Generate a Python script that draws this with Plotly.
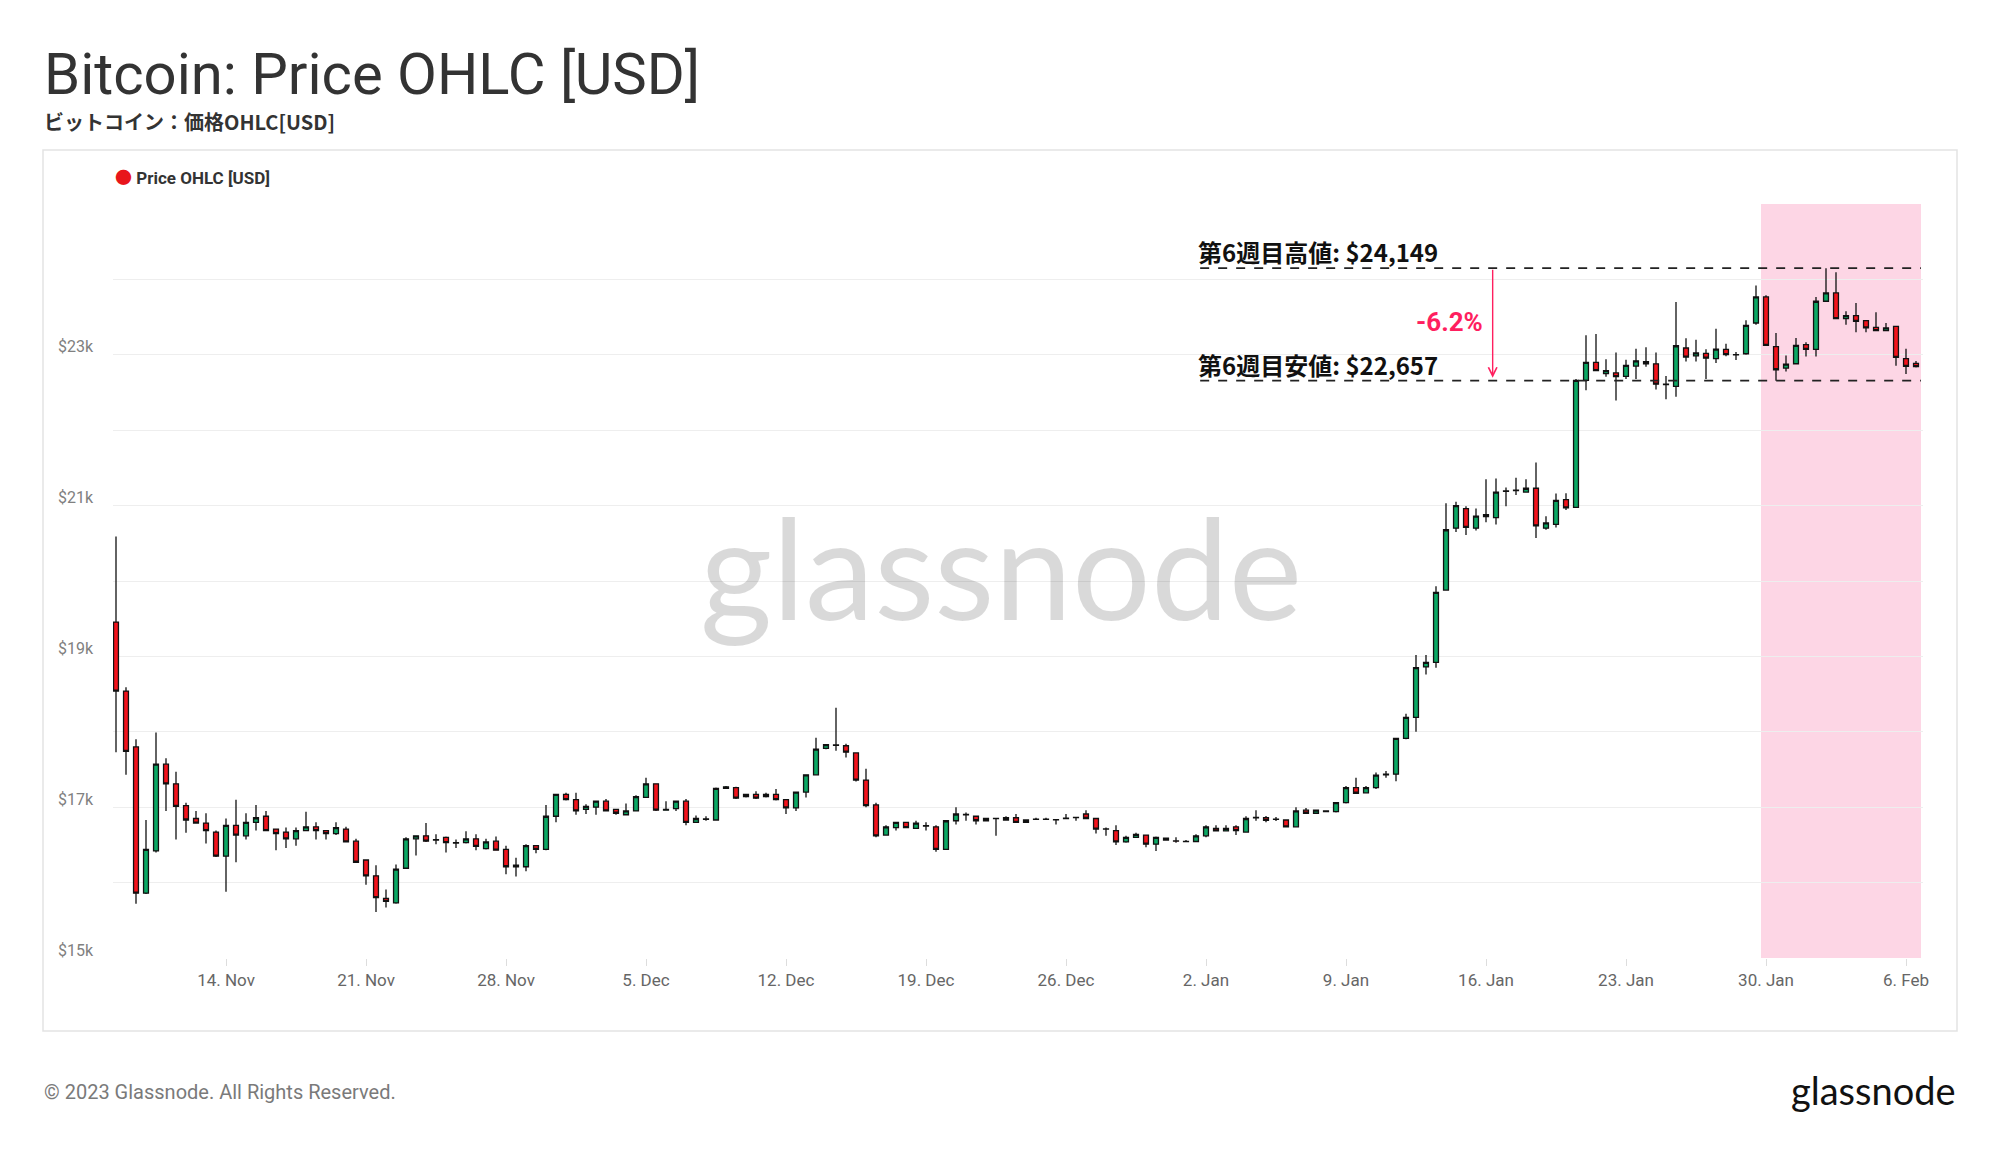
import pandas as pd
import plotly.graph_objects as go

# 12時間足 OHLC (2022-11-08 12:00 から)
start_time = "2022-11-08 12:00"
opens = [
    19455, 18540, 17800, 15860, 16420, 17570, 17310, 17020, 16850, 16790,
    16670, 16350, 16760, 16620, 16800, 16880, 16710, 16670, 16580, 16690,
    16740, 16690, 16650, 16710, 16550, 16300, 16090, 15790, 15730, 16190,
    16580, 16620, 16570, 16600, 16530, 16530, 16580, 16450, 16550, 16440,
    16210, 16210, 16490, 16440, 16880, 17170, 17100, 16970, 17000, 17080,
    16970, 16900, 16950, 17130, 17310, 16960, 16980, 17080, 16800, 16840,
    16830, 17250, 17260, 17140, 17170, 17140, 17170, 17100, 16990, 17200,
    17430, 17780, 17820, 17815, 17720, 17360, 17030, 16630, 16730, 16800,
    16720, 16750, 16740, 16440, 16820, 16900, 16880, 16820, 16850, 16830,
    16860, 16800, 16840, 16840, 16835, 16850, 16866, 16910, 16850, 16710,
    16690, 16540, 16600, 16630, 16510, 16590, 16552, 16543, 16545, 16620,
    16720, 16685, 16740, 16670, 16860, 16862, 16840, 16830, 16740, 16960,
    16920, 16940, 16940, 17060, 17260, 17190, 17260, 17430, 17438, 17912,
    18190, 18860, 18920, 19880, 20700, 20960, 20700, 20880, 20840, 21190,
    21200, 21180, 21230, 20700, 20750, 21080, 20977, 22660, 22900, 22750,
    22760, 22715, 22850, 22910, 22880, 22610, 22580, 23090, 22985, 23020,
    22950, 23072, 23000, 23014, 23422, 23768, 23108, 22824, 22881, 23134,
    23072, 23710, 23821, 23480, 23520, 23453, 23365, 23320, 23378, 22948,
    22886,
]
highs = [
    20590, 18590, 17900, 16830, 17990, 17650, 17470, 17060, 16950, 16920,
    16690, 16850, 17100, 16920, 17030, 16950, 16710, 16730, 16730, 16940,
    16800, 16690, 16800, 16740, 16580, 16300, 16230, 15910, 16240, 16600,
    16620, 16790, 16640, 16610, 16570, 16680, 16640, 16580, 16610, 16490,
    16330, 16510, 16500, 17030, 17180, 17190, 17190, 17040, 17080, 17110,
    16970, 17050, 17160, 17390, 17310, 17080, 17080, 17110, 16890, 16880,
    17260, 17280, 17270, 17180, 17210, 17190, 17240, 17100, 17200, 17430,
    17920, 17830, 18320, 17840, 17730, 17510, 17060, 16760, 16800, 16800,
    16820, 16800, 16760, 16830, 17000, 16930, 16880, 16860, 16855, 16880,
    16910, 16835, 16860, 16860, 16840, 16910, 16870, 16960, 16850, 16730,
    16760, 16620, 16660, 16630, 16610, 16590, 16600, 16565, 16640, 16760,
    16760, 16760, 16760, 16880, 16960, 16884, 16870, 16840, 17000, 16990,
    16965, 16955, 17065, 17280, 17390, 17280, 17460, 17480, 17912, 18240,
    19020, 19020, 19930, 21030, 21050, 20990, 20960, 21350, 21360, 21240,
    21370, 21350, 21570, 20860, 21160, 21165, 22680, 23258, 23276, 22940,
    23030, 22935, 23080, 23100, 23030, 22720, 23700, 23220, 23200, 23075,
    23345, 23147, 23036, 23457, 23919, 23790, 23289, 22992, 23223, 23165,
    23768, 24149, 24096, 23578, 23688, 23453, 23564, 23422, 23378, 23081,
    22917,
]
lows = [
    17730, 17430, 15720, 15850, 16400, 16950, 16570, 16660, 16790, 16520,
    16340, 15880, 16270, 16570, 16690, 16690, 16430, 16460, 16490, 16680,
    16570, 16570, 16630, 16540, 16260, 15970, 15610, 15670, 15720, 16190,
    16360, 16540, 16510, 16400, 16460, 16520, 16430, 16440, 16430, 16110,
    16080, 16150, 16390, 16430, 16800, 17090, 16900, 16910, 16900, 16950,
    16900, 16900, 16950, 17130, 16950, 16960, 16950, 16760, 16800, 16820,
    16830, 17250, 17110, 17130, 17110, 17130, 17090, 16910, 16950, 17130,
    17420, 17770, 17750, 17660, 17340, 17000, 16600, 16630, 16690, 16720,
    16710, 16690, 16410, 16440, 16770, 16820, 16770, 16815, 16620, 16820,
    16800, 16790, 16830, 16830, 16770, 16840, 16820, 16850, 16650, 16620,
    16500, 16530, 16600, 16470, 16420, 16560, 16530, 16540, 16540, 16600,
    16685, 16680, 16630, 16670, 16820, 16800, 16818, 16740, 16740, 16920,
    16915, 16935, 16930, 17050, 17180, 17185, 17240, 17390, 17345, 17900,
    18000, 18760, 18850, 19880, 20650, 20610, 20670, 20780, 20750, 20990,
    21140, 21170, 20570, 20680, 20710, 20940, 20977, 22530, 22788, 22710,
    22394, 22680, 22680, 22840, 22540, 22410, 22445, 22910, 22910, 22680,
    22890, 22980, 22930, 23001, 23400, 23126, 22657, 22779, 22881, 22979,
    22979, 23710, 23480, 23400, 23298, 23298, 23320, 23311, 22855, 22744,
    22833,
]
closes = [
    18540, 17740, 15860, 16440, 17570, 17310, 17010, 16830, 16790, 16690,
    16350, 16760, 16630, 16800, 16860, 16690, 16650, 16580, 16690, 16740,
    16690, 16650, 16730, 16540, 16270, 16090, 15800, 15750, 16180, 16580,
    16620, 16550, 16565, 16530, 16525, 16580, 16480, 16540, 16430, 16210,
    16230, 16490, 16440, 16880, 17170, 17100, 16950, 17010, 17080, 16950,
    16920, 16950, 17140, 17310, 16960, 16970, 17080, 16800, 16850, 16845,
    17250, 17270, 17120, 17170, 17120, 17170, 17100, 16990, 17200, 17430,
    17770, 17830, 17825, 17730, 17360, 17020, 16620, 16740, 16800, 16730,
    16790, 16755, 16440, 16820, 16910, 16906, 16820, 16850, 16848, 16860,
    16800, 16830, 16842, 16838, 16833, 16855, 16862, 16850, 16710, 16712,
    16540, 16600, 16640, 16510, 16600, 16565, 16550, 16545, 16620, 16740,
    16685, 16720, 16690, 16850, 16864, 16826, 16842, 16740, 16950, 16920,
    16960, 16951, 17060, 17260, 17185, 17260, 17425, 17438, 17912, 18190,
    18850, 18920, 19850, 20680, 21000, 20710, 20860, 20855, 21180, 21195,
    21205, 21230, 20730, 20770, 21070, 20970, 22660, 22900, 22790, 22790,
    22710, 22860, 22920, 22880, 22610, 22605, 23120, 22970, 23025, 22955,
    23075, 23002, 23003, 23391, 23768, 23126, 22802, 22877, 23126, 23072,
    23710, 23821, 23480, 23520, 23444, 23356, 23320, 23356, 22966, 22846,
    22842,
]

# 第6週の高値・安値
week6_high = 24149
week6_low = 22657
week6_change = "-6.2%"
week6_start = "2023-01-29 18:00"
week6_end = "2023-02-06 18:00"
level_line_start = "2023-01-01 17:00"
arrow_time = "2023-01-16 08:00"

y_tick_values = [15000, 16000, 17000, 18000, 19000, 20000, 21000, 22000, 23000, 24000]
y_tick_labels = ["$15k", "", "$17k", "", "$19k", "", "$21k", "", "$23k", ""]

times = pd.date_range(start=start_time, periods=len(opens), freq="12h")

# ピクセル位置 -> paper 座標
L, R, T, B = 113, 1923, 204, 958
W, H = R - L, B - T


def px(x):
    return (x - L) / W


def py(y):
    return (B - y) / H


FONT = "Roboto, 'Noto Sans CJK JP', sans-serif"
JP_FONT = "'Noto Sans CJK JP', Roboto, sans-serif"
PINK = "#ff1f5f"

fig = go.Figure()
fig.add_trace(go.Candlestick(
    x=times, open=opens, high=highs, low=lows, close=closes,
    increasing=dict(fillcolor="#0ba864", line=dict(color="#111111", width=1.3)),
    decreasing=dict(fillcolor="#f3121b", line=dict(color="#111111", width=1.3)),
    whiskerwidth=0,
    showlegend=False,
    hoverinfo="skip",
))

shapes = [
    # 第6週のハイライト
    dict(type="rect", xref="x", yref="paper", x0=week6_start, x1=week6_end, y0=0, y1=1,
         fillcolor="#fdd6e5", line=dict(width=0), layer="below"),
    # 高値・安値の点線
    dict(type="line", xref="x", yref="y", x0=level_line_start, x1=week6_end,
         y0=week6_high, y1=week6_high, line=dict(color="#222222", width=1.6, dash="dash")),
    dict(type="line", xref="x", yref="y", x0=level_line_start, x1=week6_end,
         y0=week6_low, y1=week6_low, line=dict(color="#222222", width=1.6, dash="dash")),
    # チャートの枠
    dict(type="rect", xref="paper", yref="paper", x0=px(43), x1=px(1957), y0=py(1031), y1=py(150),
         line=dict(color="#e3e3e3", width=1.5), fillcolor="rgba(0,0,0,0)", layer="below"),
]

annotations = [
    dict(text="Bitcoin: Price OHLC [USD]", x=px(42), y=py(74), xanchor="left", yanchor="middle",
         font=dict(family=FONT, size=58, color="#333333")),
    dict(text="<b>ビットコイン：価格OHLC[USD]</b>", x=px(42), y=py(121), xanchor="left", yanchor="middle",
         font=dict(family=JP_FONT, size=20, color="#333333")),
    dict(text="<span style='color:#e8151b'>●</span> <b>Price OHLC [USD]</b>", x=px(113), y=py(178),
         xanchor="left", yanchor="middle", font=dict(family=FONT, size=17, color="#333333")),
    dict(text="glassnode", x=px(1001), y=py(566), xanchor="center", yanchor="middle",
         font=dict(family="Lato, Roboto, sans-serif", size=139, color="rgba(0,0,0,0.15)")),
    dict(text="© 2023 Glassnode. All Rights Reserved.", x=px(42), y=py(1092), xanchor="left",
         yanchor="middle", font=dict(family=FONT, size=20, color="#7a7a7a")),
    dict(text="glassnode", x=px(1958), y=py(1090), xanchor="right", yanchor="middle",
         font=dict(family="Lato, Roboto, sans-serif", size=38, color="#111111")),
    dict(text=f"<b>第6週目高値: ${week6_high:,}</b>", xref="x", yref="y", x=level_line_start, y=week6_high,
         xanchor="left", yanchor="bottom", xshift=-4, yshift=-3, showarrow=False,
         font=dict(family=JP_FONT, size=24, color="#111111")),
    dict(text=f"<b>第6週目安値: ${week6_low:,}</b>", xref="x", yref="y", x=level_line_start, y=week6_low,
         xanchor="left", yanchor="bottom", xshift=-4, yshift=-3, showarrow=False,
         font=dict(family=JP_FONT, size=24, color="#111111")),
    dict(text=f"<b>{week6_change}</b>", xref="x", yref="y", x=arrow_time, y=(week6_high + week6_low) / 2,
         xanchor="right", yanchor="middle", xshift=-8, yshift=2, showarrow=False,
         font=dict(family=FONT, size=26, color=PINK)),
    # 下向き矢印
    dict(text="", xref="x", yref="y", axref="x", ayref="y", x=arrow_time, y=week6_low,
         ax=arrow_time, ay=week6_high, showarrow=True, arrowhead=5, arrowsize=1.2,
         arrowwidth=1.4, arrowcolor=PINK, standoff=3),
]
for a in annotations:
    a.setdefault("xref", "paper")
    a.setdefault("yref", "paper")
    a.setdefault("showarrow", False)

fig.update_layout(
    width=2000, height=1152,
    margin=dict(l=L, r=2000 - R, t=T, b=1152 - B),
    paper_bgcolor="white", plot_bgcolor="white",
    font=dict(family=FONT),
    shapes=shapes,
    annotations=annotations,
    xaxis=dict(
        type="date",
        range=["2022-11-08 08:24", "2023-02-06 20:24"],
        rangeslider=dict(visible=False),
        tick0="2022-11-14", dtick=7 * 86400000, tickformat="%-d. %b",
        showgrid=False, zeroline=False,
        ticks="outside", ticklen=7, tickcolor="#dddddd",
        showline=False,
        tickfont=dict(family=FONT, size=17, color="#666666"),
    ),
    yaxis=dict(
        range=[15000, 25000],
        tickvals=y_tick_values, ticktext=y_tick_labels,
        showgrid=True, gridcolor="#eeeeee", gridwidth=1.2,
        zeroline=False, showline=False,
        ticklabelshift=-8, ticklabelstandoff=19,
        tickfont=dict(family=FONT, size=16, color="#808080"),
    ),
)

fig.write_html("out.html", config={"displayModeBar": False},
               post_script="document.body.style.margin='0';")
